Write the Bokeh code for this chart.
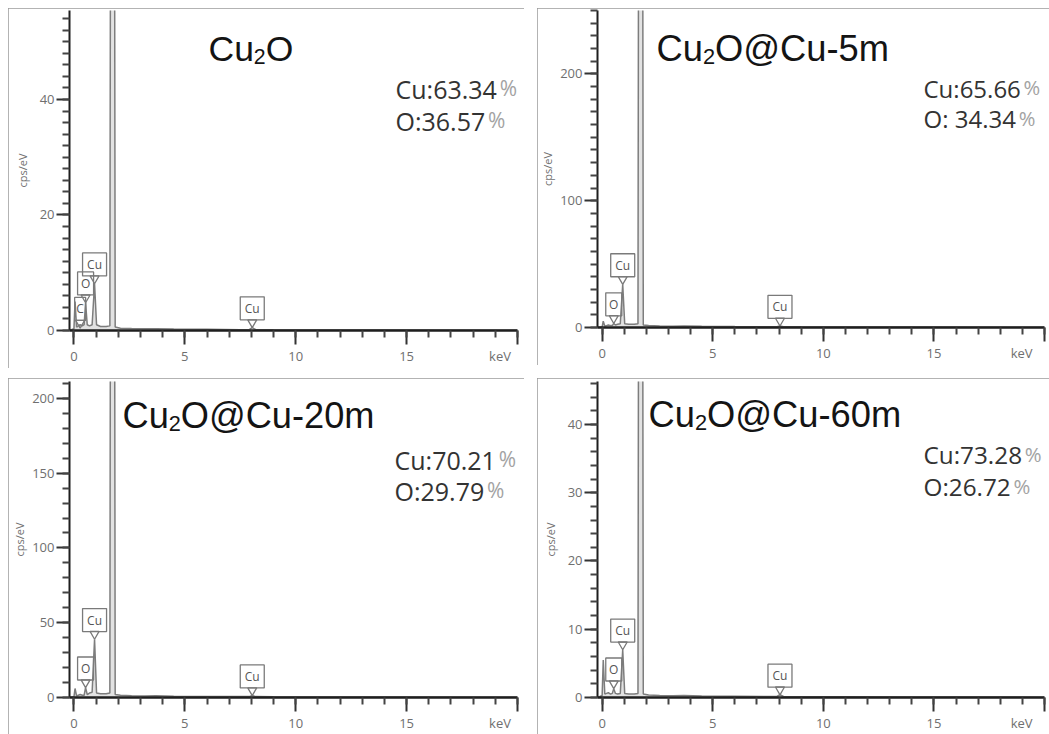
from bokeh.plotting import figure
from bokeh.layouts import row, column
from bokeh.models import Label, SingleIntervalTicker, Range1d
from bokeh.core.properties import value
from bokeh.embed import file_html
from bokeh.resources import INLINE

# ---------------- data ----------------
ENERGY_KEV = [-0.2, 0.00, 0.05, 0.12, 0.20, 0.28, 0.38, 0.46, 0.525, 0.60, 0.70,
              0.82, 0.93, 1.02, 1.20, 1.45, 1.62, 1.74, 1.86, 2.10, 2.60, 3.20,
              3.70, 4.50, 6.00, 7.50, 7.90, 8.04, 8.20, 9.00, 11.0, 14.0, 20.0]

COUNTS_CU2O = [0, 0.3, 5.0, 0.6, 0.8, 1.0, 0.8, 1.0, 4.8, 1.0, 0.8,
               1.0, 8.1, 1.0, 0.7, 0.7, 0.8, 300, 0.6, 0.4, 0.35, 0.3,
               0.3, 0.25, 0.2, 0.15, 0.15, 0.5, 0.15, 0.12, 0.1, 0.08, 0.05]
COUNTS_5M = [0, 0.5, 5.0, 1.0, 1.5, 2.0, 1.5, 1.5, 3.2, 2.0, 2.5,
             3.0, 34, 3.0, 2.5, 2.5, 3.0, 1500, 2.0, 1.5, 1.2, 1.0,
             1.2, 0.9, 0.7, 0.6, 0.6, 1.2, 0.6, 0.5, 0.4, 0.3, 0.2]
COUNTS_20M = [0, 0.5, 6.0, 1.0, 1.5, 2.0, 1.5, 1.5, 6.6, 2.0, 3.0,
              3.5, 39, 3.0, 2.5, 2.5, 3.0, 1300, 2.0, 1.5, 1.2, 1.0,
              1.2, 0.9, 0.7, 0.6, 0.6, 1.3, 0.6, 0.5, 0.4, 0.3, 0.2]
COUNTS_60M = [0, 0.3, 5.5, 0.5, 0.6, 0.7, 0.5, 0.6, 1.3, 0.6, 0.5,
              0.6, 7.0, 0.6, 0.5, 0.5, 0.6, 280, 0.5, 0.35, 0.3, 0.25,
              0.28, 0.22, 0.18, 0.15, 0.15, 0.4, 0.15, 0.12, 0.1, 0.08, 0.05]

PEAK_ELEMENTS_CU2O = ["C", "O", "Cu", "Cu"]
PEAK_KEV_CU2O = [0.28, 0.525, 0.93, 8.04]
PEAK_COUNTS_CU2O = [0.4, 4.8, 8.1, 0.5]

PEAK_ELEMENTS = ["O", "Cu", "Cu"]
PEAK_KEV = [0.525, 0.93, 8.04]
PEAK_COUNTS_5M = [3.2, 34, 1.2]
PEAK_COUNTS_20M = [6.6, 39, 1.3]
PEAK_COUNTS_60M = [1.3, 7.0, 0.4]

SAMPLE_NAMES = ["Cu2O", "Cu2O@Cu-5m", "Cu2O@Cu-20m", "Cu2O@Cu-60m"]
CU_PERCENT = ["63.34", "65.66", "70.21", "73.28"]
O_PERCENT = ["36.57", "34.34", "29.79", "26.72"]
O_SEPARATOR = [":", ": ", ":", ":"]

Y_MAX = [55.4, 250, 211.3, 46.3]
Y_TICK_STEP = [20, 100, 50, 10]
Y_MINOR_COUNT = [10, 10, 5, 5]
X_MIN = [-0.2, -0.21, -0.2, -0.21]
X_MAX = 20
X_TICK_STEP = 5
X_UNIT = "keV"
Y_UNIT = "cps/eV"

# ---------------- layout (page pixels) ----------------
GEOM = [
    dict(cl=8, ct=8, w=516, h=360, L=69, R=517, T=10, B=330,
         title=(208, 48, 35.5), comp=(395, 88, 120.5, 25), kev_pad=4, yls=7),
    dict(cl=537, ct=8, w=512, h=357, L=597, R=1044, T=9, B=329,
         title=(656, 47, 36.3), comp=(923, 87.7, 118.3, 24), kev_pad=5, yls=2),
    dict(cl=8, ct=378, w=516, h=356, L=69, R=517, T=381, B=700,
         title=(122, 415, 36.2), comp=(394, 460, 492, 25), kev_pad=4, yls=2),
    dict(cl=537, ct=378, w=512, h=356, L=597, R=1044, T=379, B=698,
         title=(648, 412, 36.3), comp=(923, 453, 485, 24.3), kev_pad=5, yls=7),
]

OPEN_SANS_W = {"C": 0.631, "u": 0.614, ":": 0.266, ".": 0.266, " ": 0.260, "O": 0.781}
for d in "0123456789":
    OPEN_SANS_W[d] = 0.572


def os_width(s, fs):
    return sum(OPEN_SANS_W.get(ch, 0.572) for ch in s) * fs


BOX_W = {"C": 11, "O": 16, "Cu": 24}
BOX_H = 23
LINE_GRAY = "#7a7a7a"


def make_panel(i, counts, elements, kevs, peaks):
    g = GEOM[i]
    x0, x1 = X_MIN[i], X_MAX + 1e-6
    y0, y1 = -1e-9, Y_MAX[i]

    def px2x(px):
        return x0 + (px - g["L"]) / (g["R"] - g["L"]) * (x1 - x0)

    def py2y(py):
        return y0 + (g["B"] - py) / (g["B"] - g["T"]) * (y1 - y0)

    sy = (g["B"] - g["T"]) / (y1 - y0)  # px per count unit

    p = figure(width=g["w"], height=g["h"], x_range=Range1d(x0, x1),
               y_range=Range1d(y0, y1), output_backend="svg", toolbar_location=None,
               min_border_left=g["L"] - g["cl"], min_border_right=g["cl"] + g["w"] - g["R"],
               min_border_top=g["T"] - g["ct"], min_border_bottom=g["ct"] + g["h"] - g["B"],
               styles={"outline": "1px solid #9a9a9a", "outline-offset": "-1px"})
    p.outline_line_color = None
    p.grid.visible = False
    p.background_fill_color = "white"
    p.border_fill_color = "white"

    # axes
    p.xaxis.ticker = SingleIntervalTicker(interval=X_TICK_STEP, num_minor_ticks=5)
    p.yaxis.ticker = SingleIntervalTicker(interval=Y_TICK_STEP[i], num_minor_ticks=Y_MINOR_COUNT[i])
    p.xaxis.major_label_overrides = {X_MAX: X_UNIT + "\u00a0" * g["kev_pad"]}
    for ax, lw, mt in ((p.xaxis, 2.5, 14), (p.yaxis, 2, 13)):
        ax.axis_line_width = lw
        ax.axis_line_color = "#1e1e1e"
        ax.major_tick_out = mt
        ax.major_tick_in = 0
        ax.minor_tick_out = 7
        ax.minor_tick_in = 0
        ax.major_tick_line_width = 2
        ax.minor_tick_line_width = 2
        ax.major_tick_line_color = "#333333"
        ax.minor_tick_line_color = "#444444"
        ax.major_label_text_font = "Open Sans"
        ax.major_label_text_font_size = "13px"
        ax.major_label_text_color = "#6f6f6f"
    p.xaxis.major_label_text_line_height = 0.75
    p.xaxis.major_label_standoff = 2
    p.yaxis.major_label_standoff = 2
    p.yaxis.axis_label = Y_UNIT
    p.yaxis.axis_label_text_font = "Open Sans"
    p.yaxis.axis_label_text_font_size = "11px"
    p.yaxis.axis_label_text_font_style = "normal"
    p.yaxis.axis_label_text_color = "#6f6f6f"
    p.yaxis.axis_label_standoff = g["yls"]

    # spectrum
    p.varea(x=ENERGY_KEV, y1=[0] * len(ENERGY_KEV), y2=counts, fill_color="#e2e2e2")
    p.line(x=ENERGY_KEV, y=counts, line_color="#7d7d7d", line_width=1.5)

    # peak labels: box + tail + element name
    widths = [BOX_W[e] for e in elements]
    yc = [c + (7.8 + BOX_H / 2) / sy for c in peaks]
    ytail = [c + 5.2 / sy for c in peaks]
    p.scatter(x=kevs, y=ytail, marker="inverted_triangle", size=9, fill_color=None,
              line_color=LINE_GRAY, line_width=1.3)
    p.rect(x=kevs, y=yc, width=widths, height=BOX_H, width_units="screen",
           height_units="screen", fill_alpha=0, line_color=LINE_GRAY, line_width=1.3)
    p.text(x=kevs, y=yc, text=elements, text_align="center", text_baseline="middle",
           text_font=value("Open Sans"), text_font_size="12px", text_color="#555555")

    # title with subscript
    tx, tb, fs = g["title"]
    name = SAMPLE_NAMES[i]
    fsub = 0.6 * fs
    sub_x = tx + 1.278 * fs
    rest_x = sub_x + 0.556 * fsub
    for text, px, pyb, size in ((name[:2], tx, tb, fs), (name[2], sub_x, tb + 0.22 * fs, fsub),
                                (name[3:], rest_x, tb, fs)):
        p.add_layout(Label(x=px2x(px), y=py2y(pyb), text=text, text_font="Liberation Sans",
                           text_font_size=f"{size:.1f}px", text_color="#141414",
                           text_baseline="alphabetic", text_align="left"))

    # composition
    cx, b1, b2, cfs = g["comp"]
    for main, base in (("Cu:" + CU_PERCENT[i], b1), ("O" + O_SEPARATOR[i] + O_PERCENT[i], b2)):
        p.add_layout(Label(x=px2x(cx), y=py2y(base), text=main, text_font="Open Sans",
                           text_font_size=f"{cfs:.1f}px", text_color="#333333",
                           text_baseline="alphabetic", text_align="left"))
        px_pct = cx + os_width(main, cfs) + 2.5
        p.add_layout(Label(x=px2x(px_pct), y=py2y(base - 1), text="%", text_font="Open Sans",
                           text_font_size=f"{0.84 * cfs:.1f}px", text_color="#a3a3a3",
                           text_baseline="alphabetic", text_align="left"))
    return p


p1 = make_panel(0, COUNTS_CU2O, PEAK_ELEMENTS_CU2O, PEAK_KEV_CU2O, PEAK_COUNTS_CU2O)
p2 = make_panel(1, COUNTS_5M, PEAK_ELEMENTS, PEAK_KEV, PEAK_COUNTS_5M)
p3 = make_panel(2, COUNTS_20M, PEAK_ELEMENTS, PEAK_KEV, PEAK_COUNTS_20M)
p4 = make_panel(3, COUNTS_60M, PEAK_ELEMENTS, PEAK_KEV, PEAK_COUNTS_60M)

layout = column(row(p1, p2, spacing=13), row(p3, p4, spacing=13), spacing=10,
                margin=(8, 0, 0, 8))

open("out.html", "w").write(file_html(layout, INLINE))
